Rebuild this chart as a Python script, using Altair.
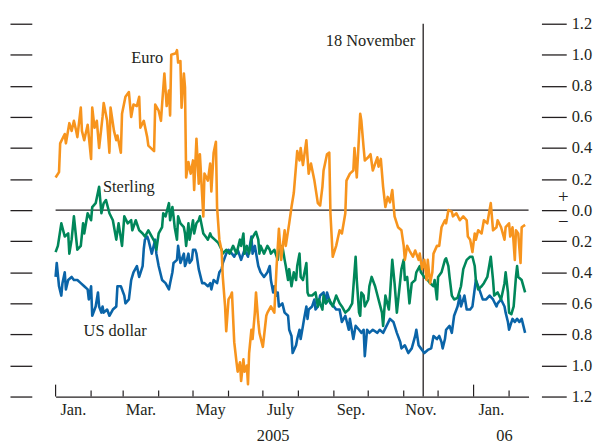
import altair as alt
import pandas as pd

# ---- data (days since 1 Jan 2005, percentage points) ----
euro_day = [0, 3, 4, 8, 9, 12, 14, 16, 18, 19,
            22, 23, 25, 28, 31, 32, 34, 36, 38, 41,
            42, 45, 47, 48, 51, 53, 54, 57, 58, 61,
            64, 66, 68, 71, 73, 74, 77, 80, 81, 86,
            87, 90, 92, 93, 95, 97, 99, 100, 101, 105,
            106, 107, 109, 110, 112, 113, 114, 116, 118, 120,
            121, 123, 125, 126, 129, 130, 133, 135, 136, 138,
            140, 141, 143, 145, 146, 148, 149, 151, 153, 154,
            156, 158, 159, 161, 162, 164, 165, 167, 168, 169,
            171, 172, 174, 175, 177, 178, 181, 184, 185, 188,
            191, 193, 195, 197, 200, 201, 204, 206, 208, 211,
            213, 214, 216, 219, 220, 221, 223, 226, 229, 231,
            233, 234, 237, 239, 240, 242, 245, 248, 250, 253,
            254, 257, 260, 261, 263, 266, 267, 269, 270, 273,
            275, 277, 281, 282, 284, 286, 288, 290, 292, 294,
            296, 299, 302, 304, 305, 307, 309, 312, 314, 317,
            318, 320, 322, 324, 325, 327, 329, 330, 333, 335,
            337, 340, 341, 343, 346, 347, 350, 353, 356, 359,
            360, 362, 364, 366, 367, 369, 372, 374, 377, 380,
            382, 385, 386, 389, 392, 393, 396, 397, 399, 401,
            402, 404, 406, 407, 410]
euro_val = [0.21, 0.245, 0.43, 0.49, 0.43, 0.56, 0.51, 0.575, 0.51, 0.47,
            0.66, 0.51, 0.45, 0.55, 0.33, 0.66, 0.53, 0.575, 0.40, 0.60,
            0.69, 0.575, 0.37, 0.66, 0.51, 0.45, 0.48, 0.37, 0.62, 0.73,
            0.76, 0.60, 0.68, 0.67, 0.73, 0.53, 0.575, 0.47, 0.415, 0.38,
            0.68, 0.64, 0.575, 0.68, 0.88, 0.67, 0.77, 0.61, 1.00, 1.01,
            1.03, 0.95, 0.96, 0.66, 0.88, 0.79, 0.21, 0.31, 0.235, 0.32,
            0.13, 0.46, 0.17, 0.36, -0.04, 0.235, 0.19, 0.30, 0.12, 0.37,
            0.44, 0.02, -0.19, -0.26, -0.43, -0.62, -0.78, -0.575, -0.55, -0.53,
            -0.85, -0.98, -1.04, -0.98, -1.10, -0.96, -1.04, -1.00, -1.12, -0.92,
            -0.77, -0.83, -0.66, -0.53, -0.72, -0.79, -0.88, -0.68, -0.66, -0.62,
            -0.66, -0.36, -0.12, -0.32, -0.13, -0.23, -0.085, 0.02, 0.11, 0.38,
            0.32, 0.40, 0.29, 0.45, 0.34, 0.235, 0.30, 0.19, 0.045, 0.03,
            0.15, 0.255, 0.36, 0.37, -0.02, -0.30, -0.23, -0.13, -0.15, -0.02,
            0.19, 0.235, 0.255, 0.40, 0.21, 0.62, 0.575, 0.40, 0.32, 0.34,
            0.36, 0.255, 0.34, 0.28, 0.33, 0.15, 0.02, 0.085, 0.05, 0.13,
            -0.04, -0.11, -0.13, -0.23, -0.32, -0.23, -0.26, -0.30, -0.26, -0.32,
            -0.28, -0.38, -0.32, -0.45, -0.32, -0.47, -0.40, -0.28, -0.23, -0.23,
            -0.11, -0.065, -0.085, 0.0, -0.01, -0.04, -0.02, -0.065, -0.04, -0.065,
            -0.17, -0.19, -0.27, -0.15, -0.19, -0.13, -0.15, -0.065, -0.085, 0.045,
            -0.13, -0.11, -0.065, -0.11, -0.19, -0.11, -0.085, -0.17, -0.11, -0.32,
            -0.13, -0.15, -0.34, -0.11, -0.095]

sterling_day = [0, 2, 5, 8, 11, 12, 14, 16, 19, 22,
                24, 25, 28, 31, 32, 35, 38, 40, 42, 44,
                47, 50, 53, 55, 58, 60, 63, 66, 67, 70,
                73, 76, 78, 81, 84, 87, 88, 90, 93, 94,
                96, 99, 100, 102, 103, 104, 106, 107, 109, 112,
                113, 114, 116, 117, 120, 121, 123, 125, 126, 129,
                131, 133, 135, 136, 139, 142, 145, 146, 149, 152,
                155, 158, 161, 162, 164, 165, 167, 169, 171, 174,
                175, 177, 178, 179, 182, 185, 187, 188, 191, 194,
                195, 198, 200, 201, 203, 204, 206, 208, 210, 211,
                213, 214, 216, 219, 220, 221, 224, 227, 229, 230,
                231, 233, 234, 236, 239, 242, 245, 248, 250, 253,
                256, 259, 262, 263, 265, 266, 267, 269, 270, 273,
                274, 276, 279, 282, 285, 286, 288, 291, 292, 294,
                296, 298, 301, 302, 304, 305, 307, 309, 311, 314,
                315, 318, 319, 322, 325, 327, 330, 331, 333, 334,
                337, 340, 341, 343, 344, 346, 348, 351, 354, 356,
                359, 362, 364, 366, 367, 369, 372, 374, 377, 380,
                382, 383, 386, 389, 392, 393, 395, 396, 398, 400,
                402, 403, 404, 407, 410]
sterling_val = [-0.27, -0.23, -0.085, -0.17, -0.15, -0.28, -0.19, -0.04, -0.255, -0.23,
                -0.085, -0.15, -0.02, -0.065, 0.02, 0.045, 0.15, -0.02, 0.045, 0.065,
                -0.02, -0.065, -0.19, -0.085, -0.23, -0.04, -0.085, -0.065, -0.13, -0.065,
                -0.13, -0.15, -0.17, -0.13, -0.17, -0.21, -0.255, -0.15, -0.11, -0.02,
                -0.04, 0.045, -0.065, 0.02, -0.04, -0.11, -0.19, -0.04, -0.085, -0.11,
                -0.15, -0.23, -0.085, -0.19, -0.065, -0.15, -0.085, -0.065, -0.04, -0.15,
                -0.17, -0.19, -0.15, -0.17, -0.19, -0.21, -0.255, -0.28, -0.255, -0.28,
                -0.23, -0.28, -0.19, -0.23, -0.15, -0.28, -0.23, -0.28, -0.19, -0.15,
                -0.14, -0.19, -0.28, -0.23, -0.28, -0.23, -0.255, -0.28, -0.255, -0.32,
                -0.255, -0.23, -0.32, -0.36, -0.45, -0.38, -0.49, -0.40, -0.45, -0.36,
                -0.28, -0.43, -0.45, -0.34, -0.53, -0.55, -0.55, -0.53, -0.62, -0.575,
                -0.60, -0.64, -0.55, -0.60, -0.575, -0.62, -0.55, -0.60, -0.62, -0.66,
                -0.64, -0.60, -0.30, -0.45, -0.66, -0.68, -0.53, -0.55, -0.62, -0.575,
                -0.49, -0.43, -0.49, -0.575, -0.66, -0.745, -0.55, -0.64, -0.55, -0.32,
                -0.47, -0.66, -0.45, -0.38, -0.32, -0.45, -0.43, -0.60, -0.47, -0.45,
                -0.40, -0.36, -0.40, -0.43, -0.45, -0.47, -0.49, -0.45, -0.575, -0.43,
                -0.40, -0.32, -0.31, -0.36, -0.43, -0.55, -0.575, -0.565, -0.49, -0.38,
                -0.32, -0.30, -0.30, -0.36, -0.45, -0.51, -0.49, -0.47, -0.43, -0.30,
                -0.45, -0.55, -0.53, -0.575, -0.47, -0.40, -0.53, -0.66, -0.67, -0.62,
                -0.43, -0.36, -0.43, -0.45, -0.53]

usd_day = [0, 1, 3, 5, 6, 8, 9, 11, 14, 16,
           19, 22, 25, 28, 29, 31, 32, 35, 37, 38,
           40, 41, 42, 45, 47, 50, 53, 54, 57, 60,
           61, 64, 66, 68, 71, 73, 76, 77, 78, 80,
           81, 84, 87, 88, 90, 93, 96, 99, 100, 102,
           103, 106, 107, 109, 112, 113, 114, 116, 117, 119,
           120, 122, 123, 125, 128, 130, 133, 135, 136, 138,
           141, 143, 145, 146, 149, 151, 154, 156, 159, 162,
           165, 168, 171, 172, 174, 177, 179, 182, 185, 187,
           188, 190, 191, 193, 194, 195, 198, 200, 203, 204,
           206, 207, 210, 211, 213, 214, 216, 217, 219, 220,
           221, 224, 226, 227, 229, 231, 234, 236, 237, 240,
           243, 245, 248, 250, 253, 256, 257, 260, 262, 265,
           267, 269, 270, 272, 274, 277, 281, 283, 286, 289,
           292, 295, 298, 301, 302, 305, 308, 311, 314, 315,
           317, 319, 322, 325, 328, 330, 333, 335, 337, 338,
           340, 341, 344, 346, 348, 351, 353, 354, 357, 359,
           362, 364, 367, 369, 370, 373, 376, 379, 382, 385,
           386, 389, 392, 393, 395, 396, 397, 399, 401, 403,
           405, 407, 410]
usd_val = [-0.43, -0.34, -0.49, -0.55, -0.47, -0.40, -0.51, -0.45, -0.43, -0.45,
           -0.45, -0.47, -0.49, -0.51, -0.575, -0.49, -0.68, -0.62, -0.53, -0.62,
           -0.66, -0.62, -0.66, -0.64, -0.68, -0.64, -0.62, -0.49, -0.49, -0.55,
           -0.60, -0.575, -0.45, -0.40, -0.36, -0.43, -0.36, -0.25, -0.19, -0.17,
           -0.19, -0.28, -0.19, -0.28, -0.36, -0.45, -0.47, -0.51, -0.47, -0.40,
           -0.34, -0.32, -0.23, -0.34, -0.28, -0.36, -0.34, -0.28, -0.34, -0.32,
           -0.255, -0.255, -0.28, -0.38, -0.47, -0.47, -0.49, -0.47, -0.51, -0.45,
           -0.47, -0.40, -0.38, -0.34, -0.28, -0.255, -0.28, -0.30, -0.255, -0.32,
           -0.255, -0.30, -0.17, -0.28, -0.23, -0.36, -0.40, -0.43, -0.40, -0.36,
           -0.45, -0.53, -0.49, -0.55, -0.53, -0.62, -0.60, -0.66, -0.68, -0.77,
           -0.81, -0.92, -0.87, -0.83, -0.77, -0.83, -0.745, -0.70, -0.62, -0.70,
           -0.64, -0.62, -0.575, -0.64, -0.62, -0.55, -0.53, -0.60, -0.53, -0.60,
           -0.62, -0.64, -0.64, -0.72, -0.68, -0.77, -0.70, -0.83, -0.745, -0.77,
           -0.79, -0.77, -0.94, -0.77, -0.79, -0.77, -0.79, -0.77, -0.79, -0.745,
           -0.70, -0.72, -0.79, -0.85, -0.89, -0.87, -0.92, -0.89, -0.81, -0.77,
           -0.87, -0.89, -0.92, -0.90, -0.89, -0.81, -0.83, -0.81, -0.85, -0.89,
           -0.83, -0.77, -0.745, -0.79, -0.68, -0.62, -0.55, -0.62, -0.55, -0.64,
           -0.64, -0.62, -0.45, -0.49, -0.51, -0.575, -0.575, -0.55, -0.575, -0.62,
           -0.60, -0.575, -0.62, -0.66, -0.72, -0.77, -0.745, -0.70, -0.72, -0.70,
           -0.72, -0.70, -0.79]

series_names = ["Euro", "Sterling", "US dollar"]
series_label_day = [80, 64, 52]
series_label_val = [0.98, 0.147, -0.78]

month_labels = ["Jan.", "Mar.", "May", "July", "Sep.", "Nov.", "Jan."]
year_labels = ["2005", "06"]
year_label_day = [190, 392]
event_day = [321]
event_label = ["18 November"]
y_ticks = [-1.2, -1.0, -0.8, -0.6, -0.4, -0.2, 0.0, 0.2, 0.4, 0.6, 0.8, 1.0, 1.2]

# ---- frames ----
for nm, d, v in [("euro", euro_day, euro_val), ("sterling", sterling_day, sterling_val),
                 ("usd", usd_day, usd_val)]:
    assert len(d) == len(v), nm

euro_df = pd.DataFrame({"day": euro_day, "value": euro_val})
sterling_df = pd.DataFrame({"day": sterling_day, "value": sterling_val})
usd_df = pd.DataFrame({"day": usd_day, "value": usd_val})

base = pd.Timestamp("2005-01-01")
month_starts = pd.date_range("2005-01-01", "2006-02-01", freq="MS")
month_days = [(m - base).days for m in month_starts]
year_days = [(m - base).days for m in month_starts if m.month == 1]
reg_days = [d for d in month_days if d not in year_days]
mid_days = [(month_days[i] + month_days[i + 1]) / 2 for i in range(0, 13, 2)]

ticks_df = pd.DataFrame({"day": reg_days})
year_ticks_df = pd.DataFrame({"day": year_days})
month_lab_df = pd.DataFrame({"day": mid_days, "label": month_labels})
year_lab_df = pd.DataFrame({"day": year_label_day, "label": year_labels})
series_lab_df = pd.DataFrame({"day": series_label_day, "value": series_label_val,
                              "label": series_names})
event_df = pd.DataFrame({"day": event_day, "value": [1.09], "label": event_label})
zero_df = pd.DataFrame({"value": [0.0]})
sign_df = pd.DataFrame({"value": [0.085, -0.075], "label": ["+", "\u2212"]})

# ---- style ----
W, H = 477, 376
FONT = "Liberation Serif"
INK = "#231f20"
FS = 16.5
C_EURO, C_STER, C_USD = "#F7941D", "#00875A", "#0A64A8"

xscale = alt.Scale(domain=[0, 413], nice=False, zero=False)
yscale = alt.Scale(domain=[-1.2, 1.2], nice=False, zero=False)
xaxis = alt.Axis(domain=True, domainColor=INK, domainWidth=1.3, ticks=False,
                 labels=False, grid=False, title=None)
right_axis = alt.Axis(orient="right", values=y_ticks, offset=13, tickSize=25,
                      tickWidth=1.3, tickColor=INK, domain=False, grid=False,
                      labelExpr="format(abs(datum.value), '.1f')", labelFont=FONT,
                      labelFontSize=FS, labelColor=INK, labelPadding=5, title=None)
left_axis = alt.Axis(orient="left", values=y_ticks, offset=24, tickSize=22,
                     tickWidth=1.3, tickColor=INK, domain=False, grid=False,
                     labels=False, title=None)


def X(field="day"):
    return alt.X(f"{field}:Q", scale=xscale, axis=xaxis)


def Y(axis=None):
    return alt.Y("value:Q", scale=yscale, axis=axis)


zero_rule = alt.Chart(zero_df).mark_rule(color=INK, strokeWidth=1.3).encode(y=Y(left_axis))
event_rule = alt.Chart(event_df).mark_rule(color=INK, strokeWidth=1.3).encode(x=X())
month_ticks = alt.Chart(ticks_df).mark_rule(color=INK, strokeWidth=1.2).encode(
    x=X(), y=alt.value(H - 6), y2=alt.value(H))
year_ticks = alt.Chart(year_ticks_df).mark_rule(color=INK, strokeWidth=1.2).encode(
    x=X(), y=alt.value(H - 12), y2=alt.value(H))

line_kw = dict(strokeWidth=2.6, strokeJoin="round")
usd_line = alt.Chart(usd_df).mark_line(color=C_USD, **line_kw).encode(x=X(), y=Y())
ster_line = alt.Chart(sterling_df).mark_line(color=C_STER, **line_kw).encode(x=X(), y=Y())
euro_line = alt.Chart(euro_df).mark_line(color=C_EURO, **line_kw).encode(x=X(), y=Y(right_axis))

text_kw = dict(font=FONT, fontSize=FS, color=INK, baseline="middle")
series_text = alt.Chart(series_lab_df).mark_text(align="center", **text_kw).encode(
    x=X(), y=Y(), text="label:N")
event_text = alt.Chart(event_df).mark_text(align="right", dx=-8, **text_kw).encode(
    x=X(), y=Y(), text="label:N")
month_text = alt.Chart(month_lab_df).mark_text(align="center", **text_kw).encode(
    x=X(), y=alt.value(H + 14), text="label:N")
year_text = alt.Chart(year_lab_df).mark_text(align="center", **text_kw).encode(
    x=X(), y=alt.value(H + 40), text="label:N")
sign_text = alt.Chart(sign_df).mark_text(
    align="center", font=FONT, fontSize=19, color=INK, baseline="middle").encode(
    x=alt.value(W + 35), y=Y(), text="label:N")

chart = alt.layer(
    zero_rule, event_rule, month_ticks, year_ticks,
    usd_line, ster_line, euro_line,
    series_text, event_text, month_text, year_text, sign_text,
).resolve_scale(y="shared").resolve_axis(y="independent").properties(
    width=W, height=H,
    padding={"left": 48, "top": 14, "right": 65, "bottom": 46},
    autosize=alt.AutoSizeParams(type="none"),
    background="white",
).configure_view(stroke=None)

chart.save("out.html", embed_options={"renderer": "svg", "actions": False})
